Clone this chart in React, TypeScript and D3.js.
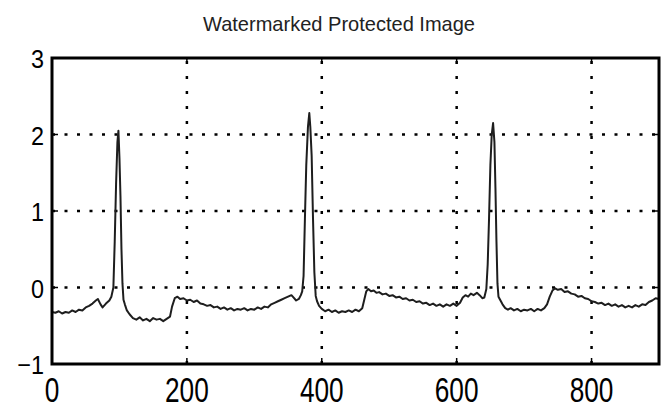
import * as d3 from "d3";

// sample index and amplitude (finer steps around the R peaks)
const sampleX = [
  0, 5, 10, 15, 20, 25, 30, 35, 40, 45, 50, 55, 60, 65, 68, 72, 75, 80, 85, 88,
  91, 93, 95, 97, 98.5, 100, 101.5, 103, 104.5, 106, 108, 111, 115, 120, 125, 130, 135, 140,
  145, 150, 155, 160, 165, 170, 175, 178, 182, 186, 190, 195, 200, 205, 210, 215,
  220, 225, 230, 235, 240, 245, 250, 255, 260, 265, 270, 275, 280, 285, 290, 295,
  300, 305, 310, 315, 320, 325, 330, 335, 340, 345, 350, 355, 358, 362, 366, 369,
  371, 373, 375, 377, 379.5, 381.5, 383, 385, 387, 389, 391, 393, 396, 400, 405, 410,
  415, 420, 425, 430, 435, 440, 445, 450, 455, 460, 463, 466, 469, 473, 477, 481,
  485, 490, 495, 500, 505, 510, 515, 520, 525, 530, 535, 540, 545, 550, 555, 560,
  565, 570, 575, 580, 585, 590, 595, 600, 605, 609, 613, 617, 621, 625, 630, 634,
  638, 641, 644, 646, 648, 650, 652, 654, 656, 657.5, 659, 660.5, 662, 665, 668, 672,
  676, 680, 685, 690, 695, 700, 705, 710, 715, 720, 725, 730, 734, 738, 742, 746,
  750, 755, 760, 765, 770, 775, 780, 785, 790, 795, 800, 805, 810, 815, 820, 825,
  830, 835, 840, 845, 850, 855, 860, 865, 870, 875, 880, 885, 890, 895, 900,
];
const sampleY = [
  -0.32, -0.33, -0.31, -0.34, -0.32, -0.33, -0.3, -0.32, -0.29, -0.3, -0.26, -0.24, -0.21, -0.17, -0.15, -0.22, -0.26, -0.21, -0.17, -0.12,
  0.0, 0.6, 1.35, 1.9, 2.05, 1.7, 1.2, 0.5, 0.05, -0.16, -0.22, -0.3, -0.35, -0.4, -0.42, -0.39, -0.43, -0.41,
  -0.44, -0.4, -0.42, -0.41, -0.44, -0.41, -0.38, -0.25, -0.14, -0.12, -0.15, -0.14, -0.17, -0.16, -0.19, -0.17,
  -0.21, -0.22, -0.24, -0.23, -0.26, -0.25, -0.28, -0.26, -0.29, -0.27, -0.3, -0.28, -0.29, -0.27, -0.3, -0.28,
  -0.29, -0.26, -0.28, -0.25, -0.26, -0.22, -0.2, -0.18, -0.16, -0.14, -0.12, -0.1, -0.13, -0.17, -0.15, -0.1,
  -0.05, 0.15, 0.9, 1.6, 2.1, 2.28, 2.1, 1.72, 0.9, 0.2, -0.11, -0.18, -0.24, -0.28, -0.31, -0.29,
  -0.32, -0.3, -0.33, -0.31, -0.32, -0.3, -0.32, -0.29, -0.31, -0.27, -0.16, -0.05, -0.02, -0.05, -0.04, -0.07,
  -0.06, -0.09, -0.08, -0.11, -0.1, -0.13, -0.12, -0.15, -0.14, -0.17, -0.16, -0.19, -0.18, -0.21, -0.2, -0.23,
  -0.21, -0.24, -0.22, -0.25, -0.22, -0.24, -0.21, -0.24, -0.2, -0.13, -0.1, -0.12, -0.08, -0.1, -0.07, -0.1,
  -0.14, -0.13, -0.02, 0.3, 0.9, 1.6, 2.0, 2.15, 1.9, 1.3, 0.6, 0.05, -0.12, -0.17, -0.22, -0.27,
  -0.29, -0.27, -0.3, -0.28, -0.31, -0.29, -0.3, -0.28, -0.31, -0.28, -0.3, -0.27, -0.22, -0.12, -0.04, -0.01,
  -0.03, -0.02, -0.06, -0.05, -0.08, -0.09, -0.12, -0.11, -0.14, -0.15, -0.18, -0.19, -0.21, -0.2, -0.23, -0.21,
  -0.24, -0.22, -0.25, -0.23, -0.26, -0.24, -0.26, -0.23, -0.25, -0.22, -0.23, -0.19, -0.17, -0.14, -0.15,
];
const xTicks = [0, 200, 400, 600, 800];
const yTicks = [-1, 0, 1, 2, 3];
const title = "Watermarked Protected Image";

const width = 662;
const height = 409;
const left = 52;
const right = 659;
const top = 58;
const bottom = 364;

export default function App() {
  const x = d3.scaleLinear([0, 900], [left, right]);
  const y = d3.scaleLinear([-1, 3], [bottom, top]);
  const pts: [number, number][] = sampleX.map((v, i) => [v, sampleY[i]]);
  const line = d3.line<[number, number]>((d) => x(d[0]), (d) => y(d[1]));

  const fmt = (v: number) => (v < 0 ? "\u2212" + Math.abs(v) : String(v));

  return (
    <svg
      width={width}
      height={height}
      style={{ position: "absolute", left: 0, top: 0, background: "#fff" }}
      fontFamily="'Liberation Sans', Arial, sans-serif"
    >
      <text
        x={339}
        y={31}
        textAnchor="middle"
        fontSize={21}
        textLength={272}
        lengthAdjust="spacingAndGlyphs"
        fill="#222"
      >
        {title}
      </text>

      {/* dotted grid */}
      <g stroke="#000" strokeWidth={2.5}>
        {xTicks.filter((t) => t > 0).map((t) => (
          <line key={"gx" + t} x1={x(t)} x2={x(t)} y1={bottom} y2={top} strokeDasharray="3,12" />
        ))}
        {yTicks.filter((t) => t > -1 && t < 3).map((t) => (
          <line key={"gy" + t} x1={left} x2={right} y1={y(t)} y2={y(t)} strokeDasharray="3,9.5" />
        ))}
      </g>

      {/* inward ticks */}
      <g stroke="#000" strokeWidth={1.5}>
        {xTicks.map((t) => (
          <g key={"tx" + t}>
            <line x1={x(t)} x2={x(t)} y1={bottom} y2={bottom - 6} />
            <line x1={x(t)} x2={x(t)} y1={top} y2={top + 6} />
          </g>
        ))}
        {yTicks.map((t) => (
          <g key={"ty" + t}>
            <line x1={left} x2={left + 6} y1={y(t)} y2={y(t)} />
            <line x1={right} x2={right - 6} y1={y(t)} y2={y(t)} />
          </g>
        ))}
      </g>

      <path d={line(pts) ?? ""} fill="none" stroke="#1e1e1e" strokeWidth={2} strokeLinejoin="round" />

      <rect x={left} y={top} width={right - left} height={bottom - top} fill="none" stroke="#000" strokeWidth={3} />

      {yTicks.map((t) => (
        <text
          key={"ly" + t}
          transform={`translate(44,${y(t) + 10}) scale(0.9,1)`}
          textAnchor="end"
          fontSize={26}
          fill="#000"
        >
          {fmt(t)}
        </text>
      ))}
      {xTicks.map((t) => (
        <text
          key={"lx" + t}
          transform={`translate(${x(t)},402) scale(0.75,1)`}
          textAnchor="middle"
          fontSize={35}
          fill="#000"
        >
          {fmt(t)}
        </text>
      ))}
    </svg>
  );
}
